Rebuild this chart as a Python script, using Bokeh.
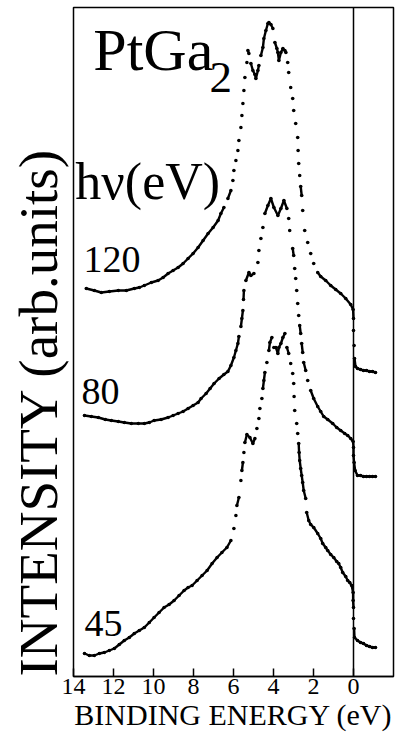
import math
from bokeh.plotting import figure
from bokeh.models import Range1d, FixedTicker, Label, Span, Title
from bokeh.embed import file_html
from bokeh.resources import INLINE

# ---------------- data ----------------
# binding energy (eV) and intensity (arb. units) for each photon energy
e120 = [13.36, 12.96, 12.61, 12.21, 11.76, 11.36, 10.96, 10.71, 10.46, 10.11, 9.77, 9.52, 9.27, 9.02, 8.77,
        8.52, 8.27, 8.02, 7.77, 7.52, 7.27, 7.02, 6.77, 6.63, 6.48, 6.28, 6.13, 6.03, 5.98, 5.88, 5.78, 5.73,
        5.63, 5.58, 5.53, 5.48, 5.43, 5.33, 5.28, 5.23, 5.13, 5.03, 4.93, 4.88, 4.78, 4.73, 4.63, 4.53, 4.48,
        4.38, 4.28, 4.23, 4.13, 4.03, 3.93, 3.83, 3.78, 3.73, 3.63, 3.53, 3.43, 3.38, 3.29, 3.24, 3.14, 3.04,
        2.99, 2.89, 2.79, 2.77, 2.74, 2.69, 2.64, 2.59, 2.54, 2.44, 2.29, 2.14, 1.99, 1.79, 1.64, 1.39, 1.14,
        0.89, 0.64, 0.39, 0.14, 0.02, 0.00, 0.00, -0.03, -0.05, -0.10, -0.20, -0.35, -0.50, -0.65, -0.80,
        -0.95, -1.10]
i120 = [388, 386, 384, 385, 386, 386, 388, 389, 391, 394, 396, 399, 403, 406, 409, 413, 418, 423, 429, 436,
        443, 449, 456, 463, 469, 478, 486, 496, 506, 516, 526, 536, 549, 561, 573, 586, 599, 614, 626, 623,
        613, 606, 602, 598, 606, 611, 621, 629, 638, 646, 653, 654, 652, 648, 634, 628, 624, 616, 624, 628,
        626, 624, 614, 604, 589, 578, 566, 553, 539, 526, 513, 501, 490, 481, 466, 446, 434, 423, 413, 404,
        400, 396, 391, 387, 383, 378, 372, 367, 358, 346, 331, 318, 310, 308, 307, 306, 306, 305, 305, 304]

e80 = [13.45, 13.11, 12.76, 12.41, 12.11, 11.76, 11.46, 11.11, 10.76, 10.46, 10.21, 9.97, 9.62, 9.27, 9.02,
       8.77, 8.52, 8.27, 8.02, 7.77, 7.62, 7.37, 7.17, 6.97, 6.72, 6.48, 6.28, 6.13, 5.98, 5.88, 5.78, 5.73,
       5.63, 5.58, 5.53, 5.50, 5.48, 5.38, 5.23, 5.13, 4.98, 4.78, 4.73, 4.63, 4.53, 4.43, 4.28, 4.13, 3.98,
       3.78, 3.63, 3.48, 3.33, 3.24, 3.19, 3.04, 2.99, 2.94, 2.89, 2.84, 2.79, 2.74, 2.69, 2.64, 2.59, 2.54,
       2.49, 2.39, 2.29, 2.14, 1.99, 1.79, 1.64, 1.49, 1.29, 1.04, 0.84, 0.64, 0.44, 0.29, 0.14, 0.02, 0.00,
       0.00, -0.03, -0.08, -0.20, -0.35, -0.50, -0.65, -0.80, -0.95, -1.10]
i80 = [261, 260, 259, 257, 256, 255, 254, 253, 253, 253, 254, 256, 257, 259, 261, 263, 265, 268, 271, 274,
       278, 283, 288, 293, 298, 302, 305, 311, 319, 326, 333, 340, 350, 358, 366, 377, 386, 396, 404, 401,
       403, 414, 426, 438, 449, 463, 471, 478, 469, 461, 468, 476, 468, 458, 446, 428, 421, 408, 398, 386,
       373, 361, 351, 343, 333, 324, 314, 306, 296, 286, 278, 270, 265, 260, 257, 253, 249, 246, 243, 241,
       238, 235, 229, 221, 214, 206, 201, 201, 200, 200, 200, 200, 200]

e45 = [13.45, 13.21, 12.96, 12.71, 12.46, 12.21, 11.96, 11.71, 11.46, 11.21, 10.96, 10.71, 10.46, 10.21, 9.97,
       9.72, 9.47, 9.22, 8.97, 8.72, 8.47, 8.27, 8.07, 7.82, 7.57, 7.32, 7.07, 6.82, 6.58, 6.33, 6.13, 5.98,
       5.88, 5.83, 5.73, 5.63, 5.58, 5.53, 5.48, 5.43, 5.33, 5.18, 5.03, 4.93, 4.83, 4.73, 4.68, 4.58, 4.53,
       4.48, 4.43, 4.33, 4.23, 4.18, 4.08, 3.98, 3.88, 3.78, 3.73, 3.63, 3.53, 3.43, 3.33, 3.24, 3.14, 3.04,
       2.99, 2.97, 2.94, 2.84, 2.79, 2.74, 2.72, 2.69, 2.64, 2.59, 2.54, 2.49, 2.39, 2.34, 2.24, 2.14, 1.99,
       1.79, 1.64, 1.54, 1.39, 1.29, 1.14, 0.99, 0.84, 0.74, 0.64, 0.54, 0.39, 0.29, 0.19, 0.09, 0.02, 0.02,
       0.00, 0.00, -0.03, -0.05, -0.20, -0.35, -0.50, -0.65, -0.80, -0.95, -1.10]
i45 = [23, 21, 21, 23, 24, 26, 28, 32, 36, 39, 43, 46, 49, 54, 59, 64, 69, 72, 76, 81, 86, 89, 91, 96, 101,
       106, 113, 119, 124, 129, 136, 148, 161, 171, 179, 196, 206, 214, 224, 234, 242, 239, 233, 238, 248,
       258, 268, 278, 288, 296, 304, 314, 326, 334, 339, 329, 329, 323, 329, 333, 339, 343, 329, 323, 313,
       303, 293, 280, 266, 253, 243, 233, 224, 216, 208, 201, 194, 186, 178, 164, 156, 152, 149, 143, 138,
       133, 129, 126, 122, 119, 115, 113, 109, 104, 100, 96, 94, 91, 84, 76, 69, 58, 48, 39, 36, 34, 33, 31,
       30, 29, 29]

photon_energies = ["120", "80", "45"]
x_ticks = [14, 12, 10, 8, 6, 4, 2, 0]

# ---------------- figure ----------------
W, H = 401, 739
ML, MR, MT, MB = 72, 8, 7, 63
X0, X1 = 14.0, -2.0
Y0, Y1 = 0, 669
FONT = "Liberation Serif"

p = figure(width=W, height=H, x_range=Range1d(X0, X1), y_range=Range1d(Y0, Y1),
           output_backend="svg", toolbar_location=None,
           min_border_left=ML, min_border_right=MR, min_border_top=MT, min_border_bottom=MB)
p.grid.visible = False
p.yaxis.visible = False
p.background_fill_color = "white"
p.border_fill_color = "white"
p.outline_line_color = "black"
p.outline_line_width = 1.5

xa = p.xaxis[0]
xa.ticker = FixedTicker(ticks=x_ticks)
xa.major_tick_in = 8
xa.major_tick_out = 0
xa.minor_tick_in = 0
xa.minor_tick_out = 0
xa.axis_line_color = "black"
xa.axis_line_width = 1.5
xa.major_tick_line_color = "black"
xa.major_tick_line_width = 1.5
xa.major_label_text_font = FONT
xa.major_label_text_font_size = "24px"
xa.major_label_text_color = "black"
xa.major_label_standoff = 2
xa.axis_label = "BINDING ENERGY (eV)"
xa.axis_label_text_font = FONT
xa.axis_label_text_font_size = "30px"
xa.axis_label_text_font_style = "normal"
xa.axis_label_text_color = "black"
xa.axis_label_standoff = 1

# vertical title standing in for the intensity axis label
p.add_layout(Title(text="INTENSITY (arb.units)", align="left", standoff=10,
                   text_font=FONT, text_font_size="55px", text_font_style="normal",
                   text_color="black"), "left")

# Fermi level line
p.add_layout(Span(location=0, dimension="height", line_color="black", line_width=1.5))

# pixel scale factors (to decide where dots merge into a continuous trace)
sx = (W - ML - MR) / abs(X0 - X1)
sy = (H - MT - MB) / (Y1 - Y0)


def draw_curve(e, inten):
    x0, y0, x1, y1 = [], [], [], []
    for k in range(len(e) - 1):
        dx = (e[k + 1] - e[k]) * sx
        dy = (inten[k + 1] - inten[k]) * sy
        if math.hypot(dx, dy) <= 9.5:
            x0.append(e[k]); y0.append(inten[k]); x1.append(e[k + 1]); y1.append(inten[k + 1])
    p.segment(x0=x0, y0=y0, x1=x1, y1=y1, line_color="black", line_width=2.4, line_cap="round")
    p.scatter(x=e, y=inten, size=3.6, marker="circle", fill_color="black", line_color="black", line_width=0)


for e, inten in [(e120, i120), (e80, i80), (e45, i45)]:
    draw_curve(e, inten)

# ---------------- texts ----------------
p.add_layout(Label(x=13.01, y=627, text="PtGa", text_font=FONT, text_font_size="60px",
                   text_align="left", text_baseline="alphabetic", text_color="black"))
p.add_layout(Label(x=7.20, y=599, text="2", text_font=FONT, text_font_size="45px",
                   text_align="left", text_baseline="alphabetic", text_color="black"))
p.add_layout(Label(x=13.91, y=495, text="h\u03bd(eV)", text_font=FONT, text_font_size="52px",
                   text_align="left", text_baseline="alphabetic", text_color="black"))

label_pos = [(13.50, 417), (13.60, 285), (13.45, 53)]
for txt, (lx, ly) in zip(photon_energies, label_pos):
    p.add_layout(Label(x=lx, y=ly, text=txt, text_font=FONT, text_font_size="38px",
                       text_align="left", text_baseline="alphabetic", text_color="black"))

open("out.html", "w").write(file_html(p, INLINE))
